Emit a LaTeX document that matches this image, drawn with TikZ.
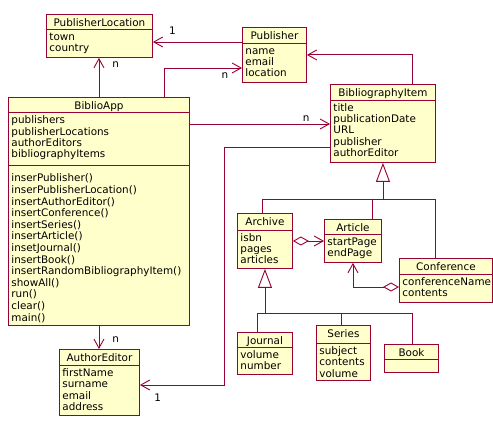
\documentclass[tikz,border=0pt]{standalone}
\usepackage{fontspec}
\setmainfont{DejaVu Sans}
\usetikzlibrary{arrows.meta, calc, positioning}

\definecolor{umlred}{RGB}{153,0,51}
\definecolor{umlfill}{RGB}{255,255,204}

% name, x, y, width, height, header height, title, attributes
\newcommand{\umlclass}[8]{%
  \node (#1) [umlbox, minimum width=#4pt, minimum height=#5pt] at (#2,#3) {};
  \node (#1-name) [umltitle] at ($(#1.north)+(0,12.3)$) {#7};
  \draw[umlline] ($(#1.north west)+(0,#6)$) -- ($(#1.north east)+(0,#6)$);
  \node (#1-attr) [umlattr, text width=#4pt-6pt] at ($(#1.north west)+(3,#6+11.2)$) {#8};
}

\begin{document}
\begin{tikzpicture}[x=1pt, y=-1pt, line width=0.9pt,
  font=\fontsize{10.4}{11.4}\selectfont,
  umlline/.style={draw=umlred},
  umlbox/.style={draw=umlred, fill=umlfill, anchor=north west, inner sep=0pt},
  umltitle/.style={anchor=base, inner sep=0pt},
  umlattr/.style={anchor=base west, inner sep=0pt, align=left},
  assoc/.style={draw=umlred, -{Straight Barb[length=9pt, width=10pt]}},
  gen/.style={draw=umlred, -{Triangle[open, length=19pt, width=14pt]}},
  aggr/.style={draw=umlred, {Diamond[open, length=16pt, width=9pt]}-{Straight Barb[length=9pt, width=10pt]}},
  lbl/.style={inner sep=0pt, text=black}]
\useasboundingbox (0,0) rectangle (493,422);

\umlclass{pl}{46}{14}{106}{43}{15}{PublisherLocation}{town\\country}
\umlclass{pub}{242}{27}{64}{55}{16}{Publisher}{name\\email\\location}
\umlclass{app}{8}{97}{181}{228}{15.5}{BiblioApp}{publishers\\publisherLocations\\authorEditors\\bibliographyItems}
\umlclass{item}{330}{84}{105}{78}{16}{BibliographyItem}{title\\publicationDate\\URL\\publisher\\authorEditor}
\umlclass{author}{59}{349}{80}{66}{16}{AuthorEditor}{firstName\\surname\\email\\address}
\umlclass{archive}{237}{213}{55}{55}{17}{Archive}{isbn\\pages\\articles}
\umlclass{article}{324}{219}{57}{43}{15}{Article}{startPage\\endPage}
\umlclass{conf}{399}{258}{93}{44}{16}{Conference}{conferenceName\\contents}
\umlclass{journal}{237}{332}{55}{42}{15}{Journal}{volume\\number}
\umlclass{series}{316}{325}{54}{55}{18}{Series}{subject\\contents\\volume}
\umlclass{book}{384}{344}{54}{28}{15}{Book}{}

% operations of BiblioApp
\draw[umlline] ($(app.north west)+(0,68)$) -- ($(app.north east)+(0,68)$);
\node (app-ops) [umlattr, text width=175pt, font=\fontsize{10.4}{11.6}\selectfont]
  at ($(app.north west)+(3,85)$)
  {inserPublisher()\\inserPublisherLocation()\\insertAuthorEditor()\\insertConference()\\insertSeries()\\insertArticle()\\insetJournal()\\insertBook()\\insertRandomBibliographyItem()\\showAll()\\run()\\clear()\\main()};

% associations
\draw[assoc] ($(pub.north west)+(0,15)$) -- node[lbl, pos=0.78, above=7pt] {1} ($(pl.north east)+(0,28)$);
\draw[assoc] (app.north) -- node[lbl, pos=0.82, right=13pt] {n} (app.north |- pl.south);
\draw[assoc] ($(app.north west)+(156,0)$) |- node[lbl, pos=0.89, below=4pt] {n} ($(pub.north west)+(0,41)$);
\draw[assoc] ($(item.north west)+(82,0)$) |- (pub.east);
\draw[assoc] ($(app.north east)+(0,27)$) -- node[lbl, pos=0.83, above=2pt] {n} ($(item.north west)+(0,40)$);
\draw[assoc] ($(item.north west)+(0,63)$) -| ($(author.north east)+(85,36)$)
  -- node[lbl, pos=0.79, below=8pt] {1} ($(author.north east)+(0,36)$);
\draw[assoc] (app.south) -- node[lbl, pos=0.58, right=13pt] {n} (app.south |- author.north);

% generalisation of BibliographyItem
\draw[umlline] ($(archive.north west)+(25,0)$) |- ($(conf.north west)+(36,-59)$) -- ($(conf.north west)+(36,0)$);
\draw[umlline] ($(article.north west)+(48,0)$) -- ++(0,-20);
\draw[gen] ($(item.south)+(0,37)$) -- (item.south);

% aggregations
\draw[aggr] ($(archive.north east)+(0,28)$) -- ($(article.north west)+(0,22)$);
\draw[aggr] ($(conf.north west)+(0,29)$) -| (article.south);

% generalisation of Archive
\draw[umlline] ($(journal.north west)+(20,0)$) |- ($(book.north west)+(28,-31)$) -- ($(book.north west)+(28,0)$);
\draw[umlline] ($(series.north west)+(25,0)$) -- ++(0,-12);
\draw[gen] ($(archive.south)+(0,45)$) -- (archive.south);
\end{tikzpicture}
\end{document}
